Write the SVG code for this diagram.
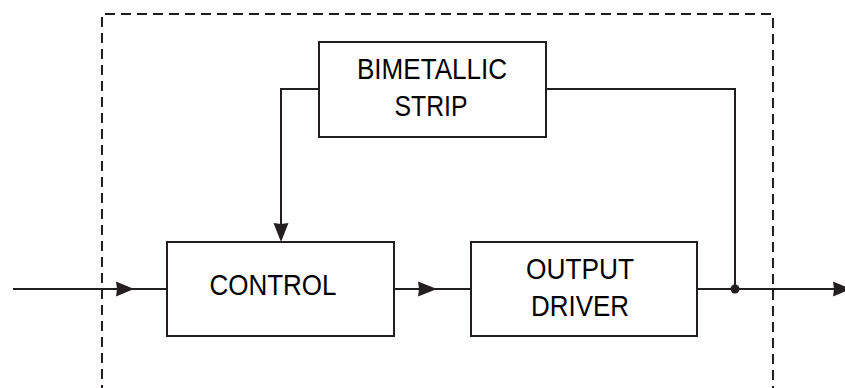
<svg xmlns="http://www.w3.org/2000/svg" width="845" height="388" viewBox="0 0 845 388">
  <style>
    .box { fill: #ffffff; stroke: #231f20; stroke-width: 2; }
    .wire { fill: none; stroke: #231f20; stroke-width: 2; }
    .dash { fill: none; stroke: #231f20; stroke-width: 2; stroke-dasharray: 10 6; }
    .head { fill: #231f20; stroke: none; }
    .lbl { font-family: "Liberation Sans", Arial, sans-serif; font-size: 30px; fill: #000000; text-anchor: middle; }
  </style>
  <rect width="845" height="388" fill="#ffffff"/>
  <path class="dash" d="M102,395 V14 H773 V395"/>
  <g id="connectors">
    <path class="wire" d="M13,289 H167"/>
    <polygon class="head" points="134,289 116,281.5 117,289 116,296.5"/>
    <path class="wire" d="M394,289 H471"/>
    <polygon class="head" points="437,289 418,281.5 419,289 418,296.5"/>
    <path class="wire" d="M697,289 H840"/>
    <polygon class="head" points="851,289 833,281.5 834,289 833,296.5"/>
    <path class="wire" d="M319,89 H281 V230"/>
    <polygon class="head" points="281,242 273.5,223 281,224 288.5,223"/>
    <path class="wire" d="M546,89 H735 V289"/>
    <circle class="head" cx="735" cy="289" r="4.5"/>
  </g>
  <g id="bimetallic">
    <rect class="box" x="319" y="42" width="227" height="95"/>
    <text class="lbl" x="432" y="79" textLength="150" lengthAdjust="spacingAndGlyphs">BIMETALLIC</text>
    <text class="lbl" x="431" y="116" textLength="73" lengthAdjust="spacingAndGlyphs">STRIP</text>
  </g>
  <g id="control">
    <rect class="box" x="167" y="242" width="227" height="94"/>
    <text class="lbl" x="273" y="295" textLength="127" lengthAdjust="spacingAndGlyphs">CONTROL</text>
  </g>
  <g id="output-driver">
    <rect class="box" x="471" y="242" width="226" height="94"/>
    <text class="lbl" x="580" y="279" textLength="108" lengthAdjust="spacingAndGlyphs">OUTPUT</text>
    <text class="lbl" x="580" y="316" textLength="98" lengthAdjust="spacingAndGlyphs">DRIVER</text>
  </g>
</svg>
